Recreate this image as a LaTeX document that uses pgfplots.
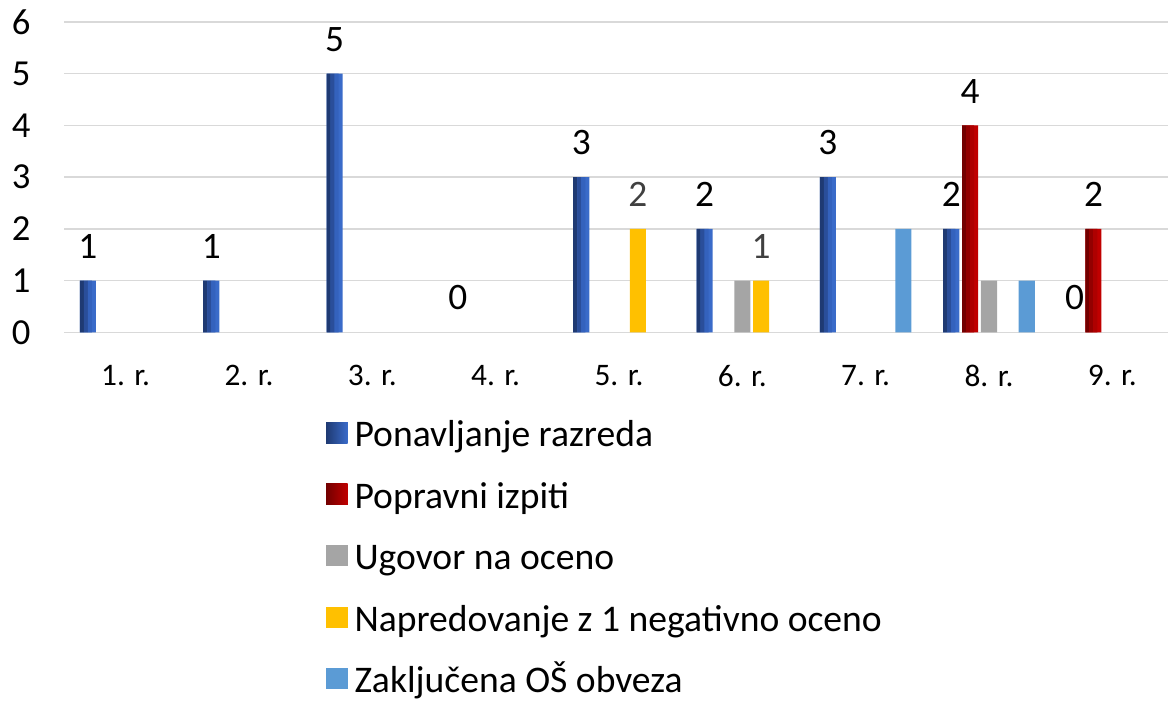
\documentclass[border=0pt]{standalone}
\usepackage{fontspec}
\setmainfont{Carlito}
\usepackage{pgfplots}
\pgfplotsset{compat=1.18}
\definecolor{pA}{HTML}{1F3A73}
\definecolor{pB}{HTML}{2A4E9A}
\definecolor{pC}{HTML}{3462BD}
\definecolor{pD}{HTML}{3A6BC9}
\definecolor{rA}{HTML}{730000}
\definecolor{rB}{HTML}{930000}
\definecolor{rC}{HTML}{AE0000}
\definecolor{rD}{HTML}{C00000}
\definecolor{ugov}{HTML}{A5A5A5}
\definecolor{napr}{HTML}{FFC000}
\definecolor{zakl}{HTML}{5B9BD5}
\definecolor{gridc}{HTML}{D9D9D9}
\definecolor{lbl}{HTML}{404040}
\begin{document}
\begin{tikzpicture}
\useasboundingbox (0,0) rectangle (876pt,525.75pt);
\begin{axis}[
  at={(48pt,276.4pt)}, anchor=south west,
  scale only axis, width=832.5pt, height=232.9pt,
  xmin=0.5, xmax=9.5, ymin=0, ymax=6,
  axis line style={draw=none},
  tick style={draw=none},
  ymajorgrids, major grid style={gridc, line width=1.1pt},
  ytick={0,1,2,3,4,5,6},
  xtick={1,2,3,4,5,6,7,8,9},
  xticklabels={1. r.,2. r.,3. r.,4. r.,5. r.,6. r.,7. r.,8. r.,9. r.},
  yticklabel style={font=\fontsize{27.5pt}{31pt}\selectfont, anchor=east, inner sep=0pt, xshift=-25pt},
  xticklabel style={font=\fontsize{23.5pt}{27pt}\selectfont, anchor=north, inner sep=0pt, yshift=-24.4pt},
  /pgf/number format/assume math mode=true,
  every node near coord/.append style={font=\fontsize{28pt}{32pt}\selectfont, anchor=south, inner sep=0pt, yshift=16.5pt},
  legend style={at={(0.236,-0.2878)}, anchor=north west, draw=none, fill=none, inner sep=0pt,
    row sep=21.7pt, column sep=5.25pt, font=\fontsize{28.2pt}{32pt}\selectfont,
    nodes={inner sep=0pt, text height=18pt, text depth=6pt}},
  legend cell align=left,
  legend image code/.code={\fill[#1] (0pt,-3.6pt) rectangle (16pt,12.4pt);},
]
% Ponavljanje razreda
\addplot[ybar, bar width=0.13, bar shift=-0.306, draw=none, fill=pD,
  nodes near coords, every node near coord/.append style={text=black, xshift=-28.3pt},
  legend image code/.code={\shade[left color=pA, right color=pD] (0pt,-3.6pt) rectangle (16pt,12.4pt);}]
  coordinates {(1,1) (2,1) (3,5) (5,3) (6,2) (7,3) (8,2)};
\addlegendentry{Ponavljanje razreda}
% Popravni izpiti
\addplot[ybar, bar width=0.13, bar shift=-0.153, draw=none, fill=rD,
  nodes near coords, every node near coord/.append style={text=black, xshift=-14.15pt},
  legend image code/.code={\shade[left color=rA, right color=rD] (0pt,-3.6pt) rectangle (16pt,12.4pt);}]
  coordinates {(8,4) (9,2)};
\addlegendentry{Popravni izpiti}
\addplot[ybar, bar width=0.13, bar shift=0, draw=none, fill=ugov]
  coordinates {(6,1) (8,1)};
\addlegendentry{Ugovor na oceno}
\addplot[ybar, bar width=0.13, bar shift=0.153, draw=none, fill=napr,
  nodes near coords, every node near coord/.append style={text=lbl, xshift=14.15pt}]
  coordinates {(5,2) (6,1)};
\addlegendentry{Napredovanje z 1 negativno oceno}
\addplot[ybar, bar width=0.13, bar shift=0.306, draw=none, fill=zakl]
  coordinates {(7,2) (8,1)};
\addlegendentry{Zaključena OŠ obveza}
% gradient strips (Ponavljanje)
\addplot[ybar, bar width=0.0325, bar shift=-0.35475, draw=none, fill=pA, forget plot]
  coordinates {(1,1) (2,1) (3,5) (5,3) (6,2) (7,3) (8,2)};
\addplot[ybar, bar width=0.0325, bar shift=-0.32225, draw=none, fill=pB, forget plot]
  coordinates {(1,1) (2,1) (3,5) (5,3) (6,2) (7,3) (8,2)};
\addplot[ybar, bar width=0.0325, bar shift=-0.28975, draw=none, fill=pC, forget plot]
  coordinates {(1,1) (2,1) (3,5) (5,3) (6,2) (7,3) (8,2)};
% gradient strips (Popravni)
\addplot[ybar, bar width=0.0325, bar shift=-0.20175, draw=none, fill=rA, forget plot]
  coordinates {(8,4) (9,2)};
\addplot[ybar, bar width=0.0325, bar shift=-0.16925, draw=none, fill=rB, forget plot]
  coordinates {(8,4) (9,2)};
\addplot[ybar, bar width=0.0325, bar shift=-0.13675, draw=none, fill=rC, forget plot]
  coordinates {(8,4) (9,2)};
% zero labels
\addplot[ybar, bar width=0.13, bar shift=-0.306, draw=none, fill=none, forget plot,
  nodes near coords, every node near coord/.append style={text=black, xshift=-28.3pt}]
  coordinates {(4,0) (9,0)};
\end{axis}
\end{tikzpicture}
\end{document}
